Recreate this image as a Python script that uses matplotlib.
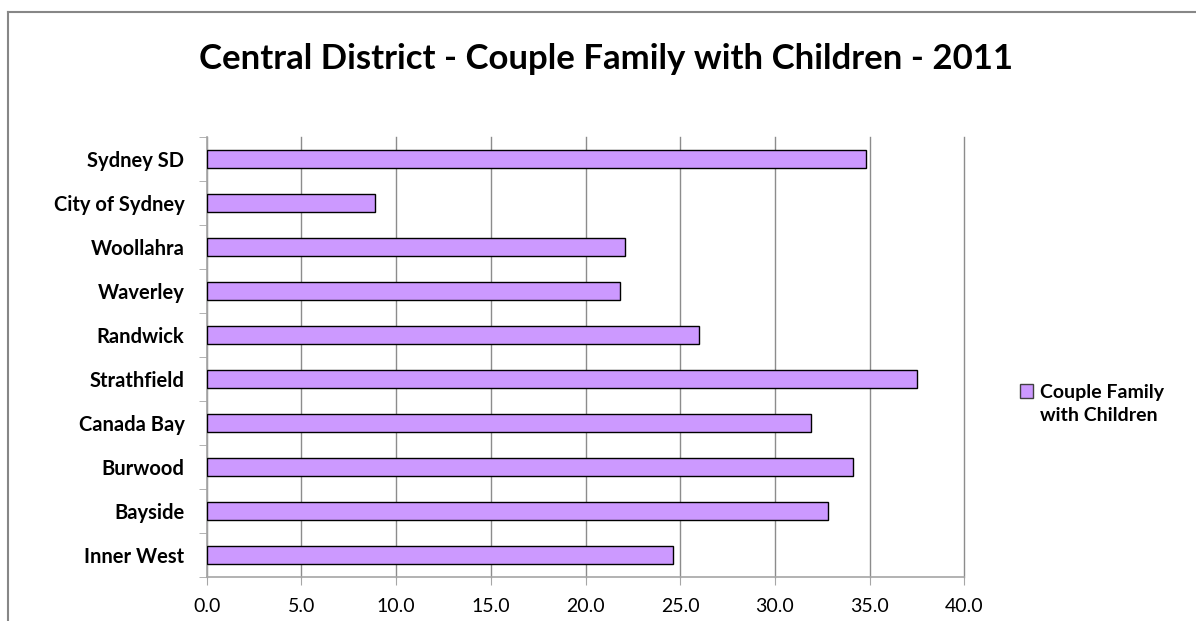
import matplotlib as mpl
import matplotlib.pyplot as plt
from matplotlib.lines import Line2D
from matplotlib.patches import Patch

mpl.rcParams["font.family"] = ["Lato", "DejaVu Sans"]

areas = ["Sydney SD", "City of Sydney", "Woollahra", "Waverley", "Randwick",
         "Strathfield", "Canada Bay", "Burwood", "Bayside", "Inner West"]
values = [34.8, 8.9, 22.1, 21.8, 26.0, 37.5, 31.9, 34.1, 32.8, 24.6]
xticks = [0, 5, 10, 15, 20, 25, 30, 35, 40]
series_lines = ["Couple Family", "with Children"]
title = "Central District - Couple Family with Children - 2011"

bar_color = "#CC99FF"
grid_color = "#8C8C8C"
axis_color = "#A6A6A6"

fig = plt.figure(figsize=(11.96, 6.21), dpi=100)
ax = fig.add_axes([0.1728, 0.0709, 0.6335, 0.7085])

pos = list(range(len(areas)))[::-1]
ax.barh(pos, values, height=0.4, color=bar_color, edgecolor="black",
        linewidth=1.0, zorder=3)

ax.set_xlim(0, 40)
ax.set_ylim(-0.5, len(areas) - 0.5)
ax.set_xticks(xticks)
ax.set_xticklabels([f"{v:.1f}" for v in xticks], fontsize=14)
ax.set_yticks(pos)
ax.set_yticklabels(areas, fontsize=14.5, fontweight="bold")
ax.tick_params(axis="y", length=0, pad=16)
ax.tick_params(axis="x", length=6, color=axis_color, pad=9)
# minor ticks between categories on the y axis
ax.set_yticks([p + 0.5 for p in range(-1, len(areas))], minor=True)
ax.tick_params(axis="y", which="minor", length=6, color=axis_color)

ax.grid(axis="x", color=grid_color, linewidth=1.0, zorder=0)
for gl in ax.get_xgridlines():
    gl.set_clip_on(False)
for side in ["top", "right"]:
    ax.spines[side].set_visible(False)
ax.spines["left"].set_color(axis_color)
ax.spines["bottom"].set_color(axis_color)
ax.spines["left"].set_linewidth(1.2)
ax.spines["bottom"].set_linewidth(1.2)

fig.text(0.507, 0.905, title, ha="center", va="center", fontsize=25,
         fontweight="bold")

# marker sits beside the first line of the wrapped series name
handles = [Patch(facecolor=bar_color, edgecolor="#404040", label=series_lines[0]),
           Patch(facecolor="none", edgecolor="none", label=series_lines[1])]
leg = fig.legend(handles=handles, loc="center left", frameon=False,
                 prop={"size": 14, "weight": "bold"}, labelspacing=0.3,
                 handlelength=0.7, handleheight=0.7, handletextpad=0.35)
leg.set_bbox_to_anchor((0.838, 0.35), transform=fig.transFigure)

# outer chart frame (left and top edges visible)
fig.add_artist(Line2D([8 / 1196, 8 / 1196], [0, 1 - 12 / 621],
                      transform=fig.transFigure, color="#878787", linewidth=1.5))
fig.add_artist(Line2D([8 / 1196, 1], [1 - 12 / 621, 1 - 12 / 621],
                      transform=fig.transFigure, color="#878787", linewidth=1.5))

fig.savefig("out.png", dpi=100)
